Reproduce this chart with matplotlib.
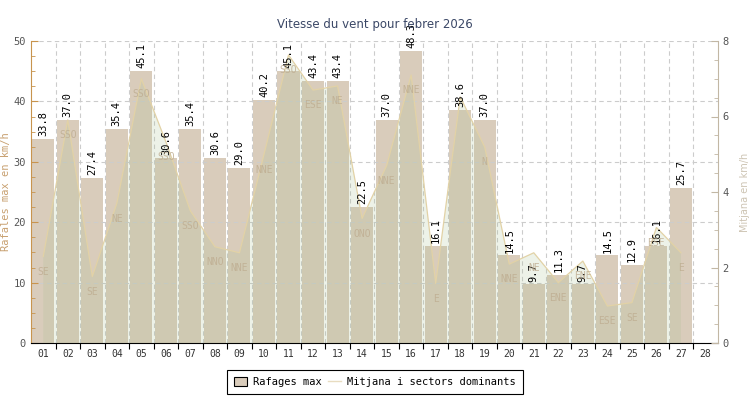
import numpy as np
import matplotlib
matplotlib.use("Agg")
import matplotlib.pyplot as plt
from matplotlib.patches import Patch
from matplotlib.lines import Line2D
from matplotlib.ticker import MultipleLocator, FixedLocator

# dies del mes
dies = list(range(1, 29))
dies_lbl = [f"{d:02d}" for d in dies]

# rafagues maximes (km/h), dies 1..27
rafagues = [33.8, 37.0, 27.4, 35.4, 45.1, 30.6, 35.4, 30.6, 29.0, 40.2,
            45.1, 43.4, 43.4, 22.5, 37.0, 48.3, 16.1, 38.6, 37.0, 14.5,
            9.7, 11.3, 9.7, 14.5, 12.9, 16.1, 25.7]

# velocitat mitjana (km/h)
mitjana = [2.29, 5.91, 1.76, 3.70, 7.00, 5.33, 3.50, 2.55, 2.39, 5.00,
           7.63, 6.70, 6.81, 3.30, 4.70, 7.10, 1.58, 6.52, 5.19, 2.09,
           2.39, 1.60, 2.17, 0.98, 1.07, 3.06, 2.39]

# sector dominant
sectors = ["SE", "SSO", "SE", "NE", "SSO", "SSO", "SSO", "NNO", "NNE", "NNE",
           "SSO", "ESE", "NE", "ONO", "NNE", "NNE", "E", "", "N", "NNE",
           "NE", "ENE", "ENE", "ESE", "SE", "ESE", "E"]

mono = "DejaVu Sans Mono"
c_bar = "#d9ccbb"
c_left = "#c8944e"
c_right = "#c2b7a4"

fig = plt.figure(figsize=(7.5, 4), dpi=100)
ax = fig.add_axes([0.0413, 0.1425, 0.9157, 0.755])
ax2 = ax.twinx()

x = np.arange(1, len(rafagues) + 1)
ax.bar(x, rafagues, width=0.9, color=c_bar, zorder=1)

ax.set_xlim(0.5, 28.5)
ax.set_ylim(0, 50)
ax2.set_ylim(0, 8)

# area de la mitjana
ax2.fill_between(x, mitjana, 0, facecolor="#a8c090", alpha=0.2, linewidth=0)
ax2.plot(x, mitjana, color="#e2d2a6", lw=0.9)

# etiquetes de valor i sectors
for xi, v, m, s in zip(x, rafagues, mitjana, sectors):
    ax2.annotate(f"{v:.1f}", (xi, v), xycoords=ax.transData, xytext=(0, 2),
                 textcoords="offset points", rotation=90, ha="center", va="bottom",
                 fontsize=7.5, family=mono, color="black")
    if s:
        ax2.annotate(s, (xi, m), xytext=(0, -11), textcoords="offset points",
                     ha="center", va="center", fontsize=7, family=mono,
                     color="#bfae92", alpha=0.85)

# graella
ax.xaxis.set_major_locator(FixedLocator(np.arange(1.5, 28, 1)))
ax.xaxis.set_minor_locator(FixedLocator(dies))
ax.set_xticklabels([], minor=False)
ax.set_xticklabels(dies_lbl, minor=True)
ax.tick_params(axis="x", which="major", direction="out", length=4, color="black")
ax.tick_params(axis="x", which="minor", length=0, pad=4, labelsize=7, labelcolor="#333333")
for lab in ax.get_xticklabels(minor=True):
    lab.set_family(mono)
ax.grid(True, axis="both", which="major", color="#cccccc", ls=(0, (4, 3)), lw=0.8)

ax.yaxis.set_major_locator(MultipleLocator(10))
ax.yaxis.set_minor_locator(MultipleLocator(2.5))
ax.tick_params(axis="y", which="both", direction="in", color=c_left,
               labelsize=7.5, labelcolor="#555555")
ax.tick_params(axis="y", which="major", length=5)
ax.tick_params(axis="y", which="minor", length=3)
for lab in ax.get_yticklabels():
    lab.set_family(mono)

ax2.yaxis.set_major_locator(MultipleLocator(2))
ax2.yaxis.set_minor_locator(MultipleLocator(0.5))
ax2.tick_params(axis="y", which="both", direction="in", color=c_right,
                labelsize=7.5, labelcolor="#555555")
ax2.tick_params(axis="y", which="major", length=5)
ax2.tick_params(axis="y", which="minor", length=3)
for lab in ax2.get_yticklabels():
    lab.set_family(mono)

for a in (ax, ax2):
    a.spines["top"].set_visible(False)
ax.spines["right"].set_visible(False)
ax2.spines["left"].set_visible(False)
ax2.spines["bottom"].set_visible(False)
ax.spines["left"].set_color(c_left)
ax2.spines["right"].set_color(c_right)
ax.spines["bottom"].set_color("black")

ax.set_ylabel("Rafales max en km/h", family=mono, fontsize=7.5, color="#c8a070", labelpad=2)
ax2.set_ylabel("Mitjana en km/h", fontsize=7, color="#cdc4b3", labelpad=8)

fig.text(0.5, 0.938, "Vitesse du vent pour febrer 2026", ha="center", va="center",
         fontsize=8.5, color="#3a4766")

handles = [Patch(facecolor=c_bar, edgecolor="black", lw=0.8),
           Line2D([], [], color="#e8dcc0", lw=1)]
leg = fig.legend(handles, ["Rafages max", "Mitjana i sectors dominants"],
                 loc="center", bbox_to_anchor=(0.5, 0.045), ncol=2,
                 fancybox=False, edgecolor="black", framealpha=1,
                 prop={"family": mono, "size": 7.5}, handlelength=1.2,
                 handleheight=1.0, columnspacing=0.6, handletextpad=0.6,
                 borderpad=0.7)
leg.get_frame().set_linewidth(0.8)

fig.savefig("out.png", dpi=100)
